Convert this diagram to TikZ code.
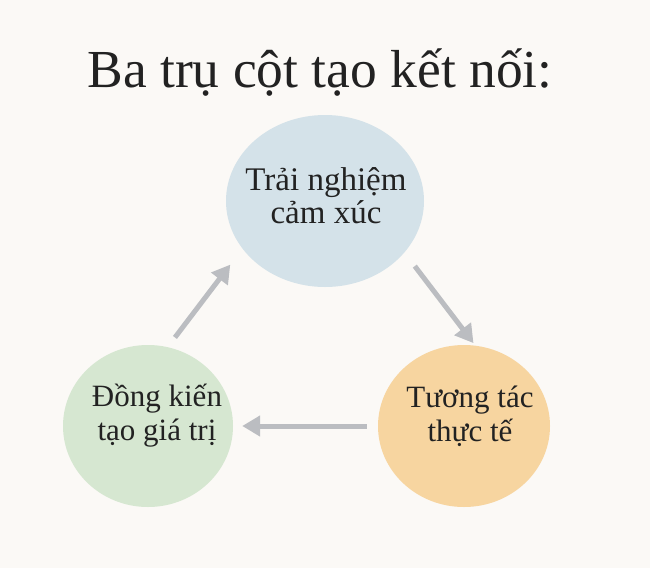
\documentclass[tikz,border=0pt]{standalone}
\usepackage{fontspec}
\setmainfont{Liberation Serif}
\usepackage{tikz}
\usetikzlibrary{shapes.geometric, arrows.meta, positioning}

\definecolor{paper}{RGB}{251,249,246}
\definecolor{pillblue}{RGB}{212,226,233}
\definecolor{pillgreen}{RGB}{214,231,209}
\definecolor{pillpeach}{RGB}{247,213,160}
\definecolor{linkgray}{RGB}{187,189,193}
\definecolor{ink}{RGB}{34,34,34}

\begin{document}
\begin{tikzpicture}[
  x=1pt, y=-1pt, % coordinates follow the pixels of the reference
  pillar/.style={ellipse, inner sep=0pt},
  pilltext/.style={text=ink, align=center, inner sep=0pt,
    font=\fontsize{33}{33}\selectfont},
  smalltext/.style={pilltext, font=\fontsize{31}{34}\selectfont},
  link/.style={draw=linkgray, line width=5pt,
    -{Triangle[length=18pt, width=20pt]}}]

  \fill[paper] (0,0) rectangle (650,568);

  \node[anchor=base, text=ink, font=\fontsize{53.5}{60}\selectfont] (title) at (320,87) {Ba trụ cột tạo kết nối:};

  % the ellipses keep their own size, the text sits on top
  \node[pillar, fill=pillblue, minimum width=198pt, minimum height=172pt] (trai) at (325,201) {};
  \node[pillar, fill=pillpeach, minimum width=172pt, minimum height=162pt] (tuong) at (464,426) {};
  \node[pillar, fill=pillgreen, minimum width=170pt, minimum height=162pt] (dong) at (148,426) {};

  \node[pilltext] (traitext) at (326,196) {Trải nghiệm\\cảm xúc};
  \node[smalltext] (tuongtext) at (470,416) {Tương tác\\thực tế};
  \node[smalltext] (dongtext) at (157,416) {Đồng kiến\\tạo giá trị};

  \draw[link, shorten <=17pt, shorten >=3pt] (trai.327) -- (tuong.82);
  \draw[link, shorten <=11pt, shorten >=9pt] (tuong.west) -- (dong.east);
  \draw[link, shorten <=12pt, shorten >=20pt] (dong.76) -- (trai.210);
\end{tikzpicture}
\end{document}
